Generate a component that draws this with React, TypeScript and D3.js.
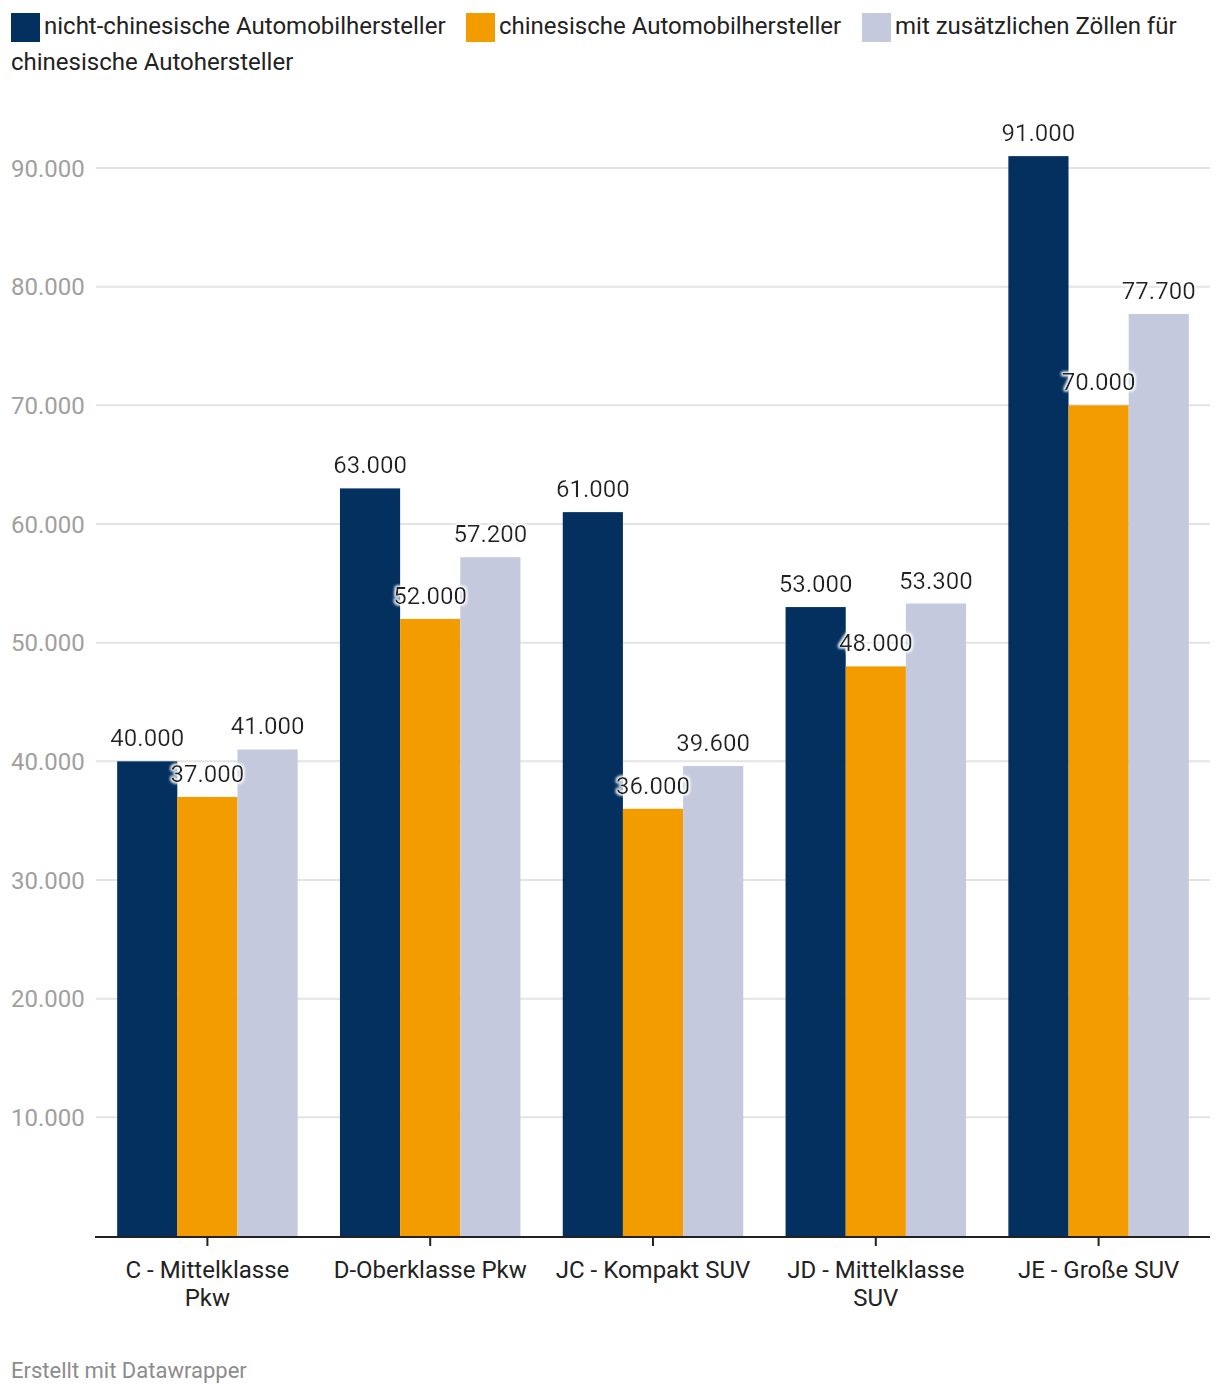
import React, { useEffect, useRef } from 'react';
import * as d3 from 'd3';

const categories = ['C - Mittelklasse Pkw', 'D-Oberklasse Pkw', 'JC - Kompakt SUV', 'JD - Mittelklasse SUV', 'JE - Große SUV'];
const categoryLines = [['C - Mittelklasse', 'Pkw'], ['D-Oberklasse Pkw'], ['JC - Kompakt SUV'], ['JD - Mittelklasse', 'SUV'], ['JE - Große SUV']];
const seriesNames = ['nicht-chinesische Automobilhersteller', 'chinesische Automobilhersteller', 'mit zusätzlichen Zöllen für chinesische Autohersteller'];
const nonChinese = [40000, 63000, 61000, 53000, 91000];
const chinese = [37000, 52000, 36000, 48000, 70000];
const withTariffs = [41000, 57200, 39600, 53300, 77700];
const yTicks = [10000, 20000, 30000, 40000, 50000, 60000, 70000, 80000, 90000];
const colors = ['#03305f', '#f39c00', '#c5c9dd'];

const W = 1220;
const H = 1396;
const FONT = 'Roboto, sans-serif';

const de = d3.formatLocale({ decimal: ',', thousands: '.', grouping: [3], currency: ['', ' €'] });
const fmt = de.format(',.0f');

const App: React.FC = () => {
  const svgRef = useRef<SVGSVGElement>(null);

  useEffect(() => {
    document.body.style.margin = '0';
    if (!svgRef.current) return;
    const svg = d3.select(svgRef.current);
    svg.selectAll('*').remove();

    const left = 96, right = 1210, top = 168, bottom = 1236;
    const series = [nonChinese, chinese, withTariffs];

    const x0 = d3.scaleBand<number>().domain(d3.range(categories.length)).range([left, right]).paddingInner(0.19).paddingOuter(0.095);
    const x1 = d3.scaleBand<number>().domain(d3.range(series.length)).range([0, x0.bandwidth()]);
    const y = d3.scaleLinear().domain([0, 90000]).range([bottom, top]);

    // soft white halo behind value labels
    const defs = svg.append('defs');
    const halo = defs.append('filter').attr('id', 'halo').attr('x', '-20%').attr('y', '-40%').attr('width', '140%').attr('height', '180%');
    halo.append('feMorphology').attr('in', 'SourceAlpha').attr('operator', 'dilate').attr('radius', 1).attr('result', 'dil');
    halo.append('feGaussianBlur').attr('in', 'dil').attr('stdDeviation', 1.5).attr('result', 'blur');
    halo.append('feFlood').attr('flood-color', '#fff').attr('flood-opacity', 0.9);
    halo.append('feComposite').attr('in2', 'blur').attr('operator', 'in').attr('result', 'glow');
    const m = halo.append('feMerge');
    m.append('feMergeNode').attr('in', 'glow');
    m.append('feMergeNode').attr('in', 'glow');
    m.append('feMergeNode').attr('in', 'SourceGraphic');

    // legend
    const legendItems = [
      { sx: 11, tx: 44 },
      { sx: 466, tx: 499 },
      { sx: 862, tx: 895 },
    ];
    const legend = svg.append('g').attr('font-family', FONT).attr('font-size', 24).attr('fill', '#222');
    legendItems.forEach((it, i) => {
      legend.append('rect').attr('x', it.sx).attr('y', 13).attr('width', 29).attr('height', 29).attr('fill', colors[i]);
    });
    legend.append('text').attr('x', legendItems[0].tx).attr('y', 34).text(seriesNames[0]);
    legend.append('text').attr('x', legendItems[1].tx).attr('y', 34).text(seriesNames[1]);
    const t3 = legend.append('text');
    t3.append('tspan').attr('x', legendItems[2].tx).attr('y', 34).text('mit zusätzlichen Zöllen für');
    t3.append('tspan').attr('x', 11).attr('y', 70).text('chinesische Autohersteller');

    // grid
    const grid = svg.append('g');
    grid.selectAll('line').data(yTicks).join('line')
      .attr('x1', left).attr('x2', right)
      .attr('y1', (d) => y(d)).attr('y2', (d) => y(d))
      .attr('stroke', '#e3e3e3').attr('stroke-width', 2);
    svg.append('g').selectAll('text').data(yTicks).join('text')
      .attr('x', 11).attr('y', (d) => y(d) + 8.5)
      .attr('font-family', FONT).attr('font-size', 24).attr('fill', '#a0a0a0')
      .text((d) => fmt(d));

    // bars
    const groups = svg.append('g').selectAll('g').data(categories).join('g')
      .attr('transform', (_, i) => `translate(${x0(i)},0)`);
    groups.each(function (_, ci) {
      const g = d3.select(this);
      series.forEach((s, si) => {
        g.append('rect')
          .attr('x', x1(si)!).attr('width', x1.bandwidth())
          .attr('y', y(s[ci])).attr('height', y(0) - y(s[ci]))
          .attr('fill', colors[si]);
      });
    });
    // value labels
    groups.each(function (_, ci) {
      const g = d3.select(this);
      series.forEach((s, si) => {
        g.append('text')
          .attr('x', x1(si)! + x1.bandwidth() / 2).attr('y', y(s[ci]) - 15)
          .attr('text-anchor', 'middle')
          .attr('font-family', FONT).attr('font-size', 24).attr('fill', '#222')
          .attr('filter', 'url(#halo)')
          .text(fmt(s[ci]));
      });
    });

    // x axis
    svg.append('line').attr('x1', left - 1).attr('x2', right).attr('y1', bottom + 1).attr('y2', bottom + 1)
      .attr('stroke', '#222').attr('stroke-width', 2);
    const xa = svg.append('g').attr('font-family', FONT).attr('font-size', 24).attr('fill', '#222');
    categoryLines.forEach((lines, i) => {
      const cx = x0(i)! + x0.bandwidth() / 2;
      xa.append('line').attr('x1', cx).attr('x2', cx).attr('y1', bottom + 1).attr('y2', bottom + 10)
        .attr('stroke', '#222').attr('stroke-width', 2);
      const t = xa.append('text').attr('text-anchor', 'middle');
      lines.forEach((ln, li) => {
        t.append('tspan').attr('x', cx).attr('y', 1278 + li * 28).text(ln);
      });
    });

    svg.append('text').attr('x', 11).attr('y', 1378)
      .attr('font-family', FONT).attr('font-size', 22).attr('fill', '#8c8c8c')
      .text('Erstellt mit Datawrapper');
  }, []);

  return <svg ref={svgRef} width={W} height={H} viewBox={`0 0 ${W} ${H}`} style={{ display: 'block', background: '#fff' }} />;
};

export default App;
